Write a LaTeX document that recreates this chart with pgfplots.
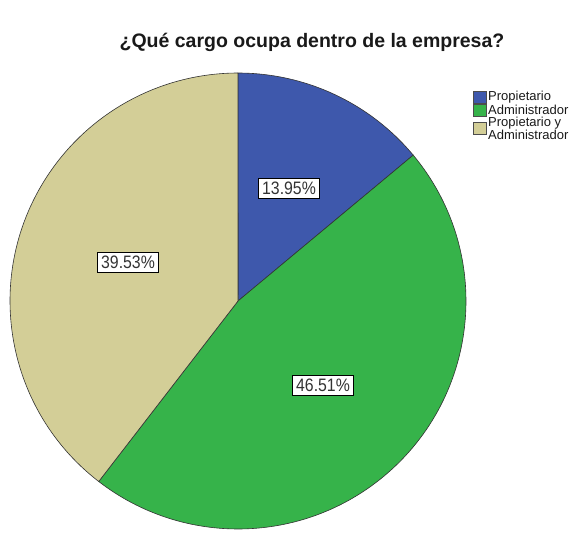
\documentclass[border=0pt]{standalone}
\usepackage{pgfplots}
\pgfplotsset{compat=1.18}
\usepackage{pgfplotstable}
\usepackage{fontspec}
\setmainfont{Liberation Sans}
\newfontfamily\narrowfont[FakeStretch=0.88]{Liberation Sans}

\definecolor{cProp}{HTML}{3E58AC}
\definecolor{cAdm}{HTML}{36B34A}
\definecolor{cPyA}{HTML}{D3CE97}

% porcentajes por cargo
\pgfplotstableread{
cargo value
Propietario 13.95
Administrador 46.51
PropAdm 39.53
}\cargos

\pgfplotstablegetelem{0}{value}\of\cargos \let\vA\pgfplotsretval
\pgfplotstablegetelem{1}{value}\of\cargos \let\vB\pgfplotsretval
\pgfplotstablegetelem{2}{value}\of\cargos \let\vC\pgfplotsretval
\pgfmathsetmacro\aA{90}
\pgfmathsetmacro\aB{\aA-3.6*\vA}
\pgfmathsetmacro\aC{\aB-3.6*\vB}
\pgfmathsetmacro\aD{\aC-3.6*\vC}

\begin{document}
\begin{tikzpicture}
\begin{axis}[
    name=pie,
    scale only axis, width=575pt, height=533pt,
    xmin=0, xmax=575, ymin=0, ymax=533, y dir=reverse,
    hide axis, clip=false,
]
\def\cx{238}\def\cy{301}\def\R{228pt}
\filldraw[fill=cProp, draw=black!80, line width=0.6pt]
  (axis cs:\cx,\cy) -- ++(\aA:\R) arc[start angle=\aA, end angle=\aB, radius=\R] -- cycle;
\filldraw[fill=cAdm, draw=black!80, line width=0.6pt]
  (axis cs:\cx,\cy) -- ++(\aB:\R) arc[start angle=\aB, end angle=\aC, radius=\R] -- cycle;
\filldraw[fill=cPyA, draw=black!80, line width=0.6pt]
  (axis cs:\cx,\cy) -- ++(\aC:\R) arc[start angle=\aC, end angle=\aD, radius=\R] -- cycle;

\tikzset{lbl/.style={draw=black, fill=white, line width=0.6pt, inner sep=3.5pt,
  font=\narrowfont\fontsize{18}{20}\selectfont, text=black!80}}
\node[lbl] at (axis cs:289,188) {\vA\%};
\node[lbl] at (axis cs:323,385) {\vB\%};
\node[lbl] at (axis cs:128,262) {\vC\%};

\node[font=\bfseries\fontsize{19.5}{22}\selectfont, text=black!90] at (axis cs:312,42)
  {¿Qué cargo ocupa dentro de la empresa?};

\tikzset{sw/.style={draw=black!70, line width=0.4pt},
  lg/.style={anchor=west, inner sep=0pt, font=\fontsize{13}{11}\selectfont, text=black!90}}
\filldraw[sw, fill=cProp] (axis cs:473,91) rectangle (axis cs:486,103);
\node[lg] at (axis cs:488,97) {Propietario};
\filldraw[sw, fill=cAdm] (axis cs:473,104) rectangle (axis cs:486,116);
\node[lg] at (axis cs:488,110) {Administrador};
\filldraw[sw, fill=cPyA] (axis cs:473,122) rectangle (axis cs:486,134);
\node[lg, align=left] at (axis cs:488,128) {Propietario y\\Administrador};
\end{axis}
\pgfresetboundingbox
\path[use as bounding box] (pie.south west) rectangle (pie.north east);
\end{tikzpicture}
\end{document}
